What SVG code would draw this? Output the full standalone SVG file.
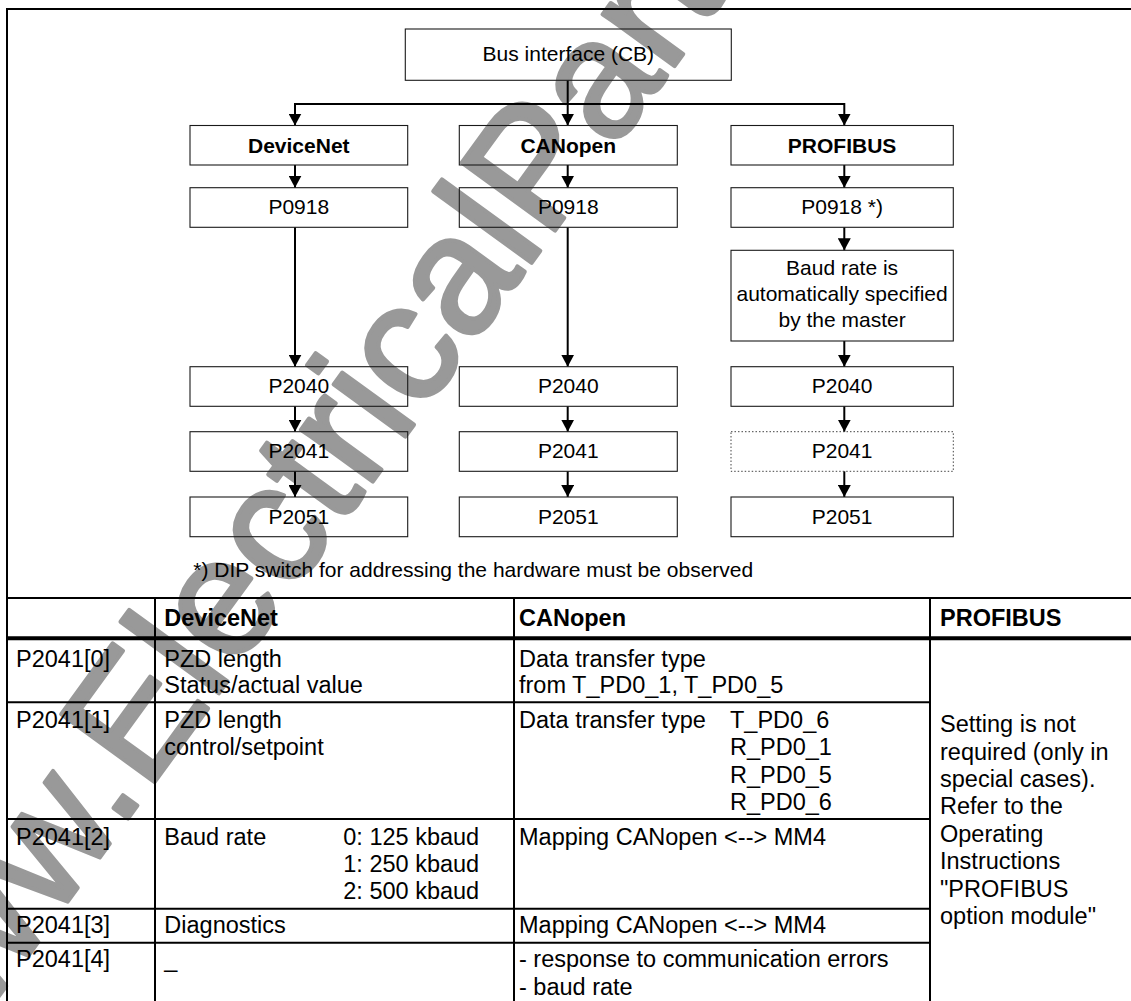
<svg xmlns="http://www.w3.org/2000/svg" width="1131" height="1001" viewBox="0 0 1131 1001">
<defs>
<marker id="ah" viewBox="0 0 12 13" refX="12" refY="6.5" markerWidth="12" markerHeight="13" markerUnits="userSpaceOnUse" orient="auto">
<path d="M0,0 L12,6.5 L0,13 z" fill="#000"/>
</marker>
</defs>
<style>
.bx{fill:none;stroke:#1a1a1a;stroke-width:1.1}
.dot{fill:none;stroke:#444;stroke-width:1;stroke-dasharray:1.5 2}
.t{font-family:"Liberation Sans",Arial,sans-serif;font-size:21px;fill:#000}
.c{text-anchor:middle}
.b{font-weight:bold}
.tt{font-family:"Liberation Sans",Arial,sans-serif;font-size:23.5px;fill:#000}
.cn{fill:none;stroke:#000;stroke-width:2}
.ar{fill:none;stroke:#000;stroke-width:2;marker-end:url(#ah)}
.ln{stroke:#000;stroke-width:2;fill:none}
.wm{font-family:"Liberation Sans",Arial,sans-serif;font-size:168px;fill:#999;stroke:#999;stroke-width:4;stroke-linejoin:round}
</style>
<rect x="0" y="0" width="1131" height="1001" fill="#fff"/>
<g id="watermark">
<text class="wm" transform="translate(-89.5,1117.9) rotate(-54)" x="0" y="0">www.ElectricalPartManuals.com</text>
</g>
<g id="frame">
<line class="ln" x1="6" y1="9" x2="1131" y2="9"/>
<line class="ln" x1="7" y1="8" x2="7" y2="1001"/>
</g>
<g id="connectors">
<line class="cn" x1="567.7" y1="80.3" x2="567.7" y2="104"/>
<line class="cn" x1="295" y1="104" x2="844.3" y2="104"/>
<line class="ar" x1="295" y1="103" x2="295" y2="125.5"/>
<line class="ar" x1="567.7" y1="103" x2="567.7" y2="125.5"/>
<line class="ar" x1="844.3" y1="103" x2="844.3" y2="125.5"/>
<line class="ar" x1="295" y1="165" x2="295" y2="187.7"/>
<line class="ar" x1="567.7" y1="165" x2="567.7" y2="187.7"/>
<line class="ar" x1="844.3" y1="165" x2="844.3" y2="187.7"/>
<line class="ar" x1="295" y1="227.3" x2="295" y2="366.7"/>
<line class="ar" x1="567.7" y1="227.3" x2="567.7" y2="366.7"/>
<line class="ar" x1="844.3" y1="227.3" x2="844.3" y2="250.3"/>
<line class="ar" x1="844.3" y1="341" x2="844.3" y2="366.7"/>
<line class="ar" x1="295" y1="406.3" x2="295" y2="431.7"/>
<line class="ar" x1="567.7" y1="406.3" x2="567.7" y2="431.7"/>
<line class="ar" x1="844.3" y1="406.3" x2="844.3" y2="431.7"/>
<line class="ar" x1="295" y1="471.3" x2="295" y2="497"/>
<line class="ar" x1="567.7" y1="471.3" x2="567.7" y2="497"/>
<line class="ar" x1="844.3" y1="471.3" x2="844.3" y2="497"/>
</g>
<g id="bus">
<rect class="bx" x="405.3" y="29" width="326" height="51.3"/>
<text class="t c" x="568.3" y="61.3">Bus interface (CB)</text>
</g>
<g id="devicenet">
<rect class="bx" x="190" y="125.5" width="217.7" height="39.5"/>
<text class="t c b" x="298.8" y="152.5">DeviceNet</text>
</g>
<g id="canopen">
<rect class="bx" x="459.3" y="125.5" width="218" height="39.5"/>
<text class="t c b" x="568.3" y="152.5">CANopen</text>
</g>
<g id="profibus">
<rect class="bx" x="731" y="125.5" width="222.3" height="39.5"/>
<text class="t c b" x="842.1" y="152.5">PROFIBUS</text>
</g>
<g id="dn-p0918">
<rect class="bx" x="190" y="187.7" width="217.7" height="39.6"/>
<text class="t c" x="298.8" y="214">P0918</text>
</g>
<g id="co-p0918">
<rect class="bx" x="459.3" y="187.7" width="218" height="39.6"/>
<text class="t c" x="568.3" y="214">P0918</text>
</g>
<g id="pb-p0918">
<rect class="bx" x="731" y="187.7" width="222.3" height="39.6"/>
<text class="t c" x="842.1" y="214">P0918 *)</text>
</g>
<g id="pb-baud">
<rect class="bx" x="731" y="250.3" width="222.3" height="90.7"/>
<text class="t c" x="842.1" y="275">Baud rate is</text>
<text class="t c" x="842.1" y="301">automatically specified</text>
<text class="t c" x="842.1" y="326.7">by the master</text>
</g>
<g id="dn-p2040">
<rect class="bx" x="190" y="366.7" width="217.7" height="39.6"/>
<text class="t c" x="298.8" y="393.3">P2040</text>
</g>
<g id="co-p2040">
<rect class="bx" x="459.3" y="366.7" width="218" height="39.6"/>
<text class="t c" x="568.3" y="393.3">P2040</text>
</g>
<g id="pb-p2040">
<rect class="bx" x="731" y="366.7" width="222.3" height="39.6"/>
<text class="t c" x="842.1" y="393.3">P2040</text>
</g>
<g id="dn-p2041">
<rect class="bx" x="190" y="431.7" width="217.7" height="39.6"/>
<text class="t c" x="298.8" y="458.3">P2041</text>
</g>
<g id="co-p2041">
<rect class="bx" x="459.3" y="431.7" width="218" height="39.6"/>
<text class="t c" x="568.3" y="458.3">P2041</text>
</g>
<g id="pb-p2041">
<rect class="dot" x="731" y="431.7" width="222.3" height="39.6"/>
<text class="t c" x="842.1" y="458.3">P2041</text>
</g>
<g id="dn-p2051">
<rect class="bx" x="190" y="497" width="217.7" height="39.7"/>
<text class="t c" x="298.8" y="523.6">P2051</text>
</g>
<g id="co-p2051">
<rect class="bx" x="459.3" y="497" width="218" height="39.7"/>
<text class="t c" x="568.3" y="523.6">P2051</text>
</g>
<g id="pb-p2051">
<rect class="bx" x="731" y="497" width="222.3" height="39.7"/>
<text class="t c" x="842.1" y="523.6">P2051</text>
</g>
<g id="footnote">
<text class="t" x="193.3" y="577">*) DIP switch for addressing the hardware must be observed</text>
</g>
<g id="table">
<line class="ln" x1="6" y1="598" x2="1131" y2="598"/>
<line x1="6" y1="638.3" x2="1131" y2="638.3" stroke="#000" stroke-width="4"/>
<line class="ln" x1="6" y1="702.3" x2="930" y2="702.3"/>
<line class="ln" x1="6" y1="819" x2="930" y2="819"/>
<line class="ln" x1="6" y1="908.7" x2="930" y2="908.7"/>
<line class="ln" x1="6" y1="942.7" x2="930" y2="942.7"/>
<line class="ln" x1="155" y1="597" x2="155" y2="1001"/>
<line class="ln" x1="514" y1="597" x2="514" y2="1001"/>
<line class="ln" x1="930" y1="597" x2="930" y2="1001"/>
<text class="tt b" x="164.3" y="625.5">DeviceNet</text>
<text class="tt b" x="519" y="625.5">CANopen</text>
<text class="tt b" x="940" y="625.5">PROFIBUS</text>
<text class="tt" x="16" y="666.6">P2041[0]</text>
<text class="tt" x="164.3" y="666.6">PZD length</text>
<text class="tt" x="164.3" y="693.3">Status/actual value</text>
<text class="tt" x="519" y="666.6">Data transfer type</text>
<text class="tt" x="519" y="693.3">from T_PD0_1, T_PD0_5</text>
<text class="tt" x="16" y="728.3">P2041[1]</text>
<text class="tt" x="164.3" y="728.3">PZD length</text>
<text class="tt" x="164.3" y="755">control/setpoint</text>
<text class="tt" x="519" y="728">Data transfer type</text>
<text class="tt" x="730" y="728">T_PD0_6</text>
<text class="tt" x="730" y="755">R_PD0_1</text>
<text class="tt" x="730" y="782.5">R_PD0_5</text>
<text class="tt" x="730" y="809.5">R_PD0_6</text>
<text class="tt" x="16" y="845">P2041[2]</text>
<text class="tt" x="164.3" y="845">Baud rate</text>
<text class="tt" x="343.3" y="845">0: 125 kbaud</text>
<text class="tt" x="343.3" y="872">1: 250 kbaud</text>
<text class="tt" x="343.3" y="899.3">2: 500 kbaud</text>
<text class="tt" x="519" y="844.5">Mapping CANopen &lt;--&gt; MM4</text>
<text class="tt" x="16" y="933.3">P2041[3]</text>
<text class="tt" x="164.3" y="933.3">Diagnostics</text>
<text class="tt" x="519" y="933.3">Mapping CANopen &lt;--&gt; MM4</text>
<text class="tt" x="16" y="967.3">P2041[4]</text>
<text class="tt" x="164.3" y="967.3">_</text>
<text class="tt" x="519" y="967.3">- response to communication errors</text>
<text class="tt" x="519" y="994.5">- baud rate</text>
<text class="tt" x="940" y="732.3">Setting is not</text>
<text class="tt" x="940" y="759.6">required (only in</text>
<text class="tt" x="940" y="787">special cases).</text>
<text class="tt" x="940" y="814.3">Refer to the</text>
<text class="tt" x="940" y="841.7">Operating</text>
<text class="tt" x="940" y="869.1">Instructions</text>
<text class="tt" x="940" y="896.7">"PROFIBUS</text>
<text class="tt" x="940" y="924.2">option module"</text>
</g>
</svg>
